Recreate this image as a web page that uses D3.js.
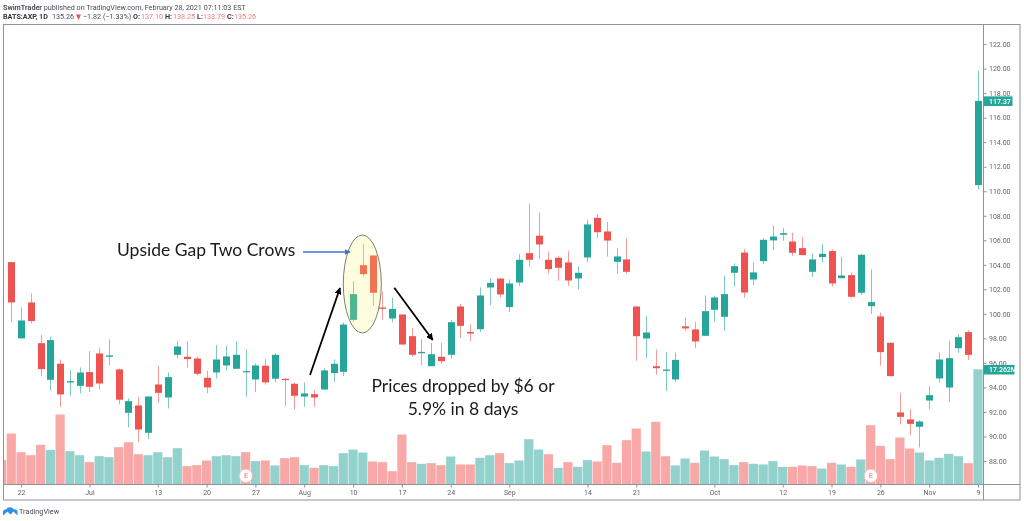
<!DOCTYPE html>
<html><head><meta charset="utf-8">
<script src="https://cdn.jsdelivr.net/npm/d3@7"></script>
<style>
html,body{margin:0;padding:0;background:#fff;overflow:hidden}
svg{display:block;filter:blur(.3px)}
</style></head><body>
<svg id="c" width="1024" height="521"></svg>
<script>
const opens=[104.22,98.0,100.93,97.61,94.62,95.93,94.40,94.13,95.25,96.77,96.50,95.47,91.93,92.53,90.30,94.24,93.18,96.66,96.50,96.36,94.79,95.22,95.79,95.52,95.28,94.65,95.77,94.71,94.70,94.30,93.26,93.45,93.83,95.17,95.27,99.51,103.97,104.76,100.52,99.62,99.95,98.18,96.79,95.73,96.50,96.66,100.60,98.53,98.75,102.15,102.88,100.55,102.56,104.95,106.37,104.41,104.57,104.19,102.89,104.60,107.83,106.72,104.24,104.44,100.60,97.99,95.73,95.35,94.65,98.98,98.73,98.21,100.33,99.76,103.35,105.0,102.80,104.30,105.99,106.45,105.90,105.36,103.43,104.63,105.12,102.91,103.16,101.72,100.63,99.79,97.64,91.96,91.39,90.79,92.93,94.73,93.99,97.20,98.51,110.5];
const highs=[104.22,100.52,101.67,98.27,98.13,96.28,95.41,95.63,96.96,97.26,97.91,95.55,93.10,93.23,93.26,95.77,95.22,97.78,97.78,96.50,95.36,97.45,97.40,97.78,97.12,95.96,96.31,96.77,94.76,94.41,94.41,93.78,95.55,96.28,99.30,102.67,105.69,104.76,101.80,101.31,99.95,98.81,97.94,97.64,97.64,99.49,100.82,99.13,102.15,102.88,102.88,102.80,104.87,109.0,108.27,105.09,104.71,105.11,103.84,107.70,108.10,107.5,105.33,106.15,100.60,99.81,97.09,96.90,96.85,99.70,99.35,101.50,101.45,103.13,104.11,105.28,104.19,106.15,107.21,107.0,106.61,106.28,104.93,105.69,105.25,104.65,103.38,104.87,103.62,100.11,97.64,93.56,92.23,91.33,94.10,96.85,97.80,98.35,98.65,119.82];
const lows=[99.30,98.0,99.22,94.92,93.73,92.42,93.32,93.51,93.62,93.83,95.82,92.61,90.73,89.56,89.78,92.75,92.29,96.36,95.63,95.0,93.51,94.73,95.36,95.52,93.24,93.64,94.24,94.41,92.50,92.20,92.42,92.42,93.83,94.46,94.92,99.35,102.97,100.66,99.49,99.30,97.50,96.50,95.82,95.73,95.90,96.36,98.02,97.77,98.53,100.71,101.34,100.14,102.26,103.84,104.46,103.29,102.69,102.29,102.0,104.19,106.2,104.68,103.29,103.29,96.17,96.39,95.05,93.70,94.46,98.62,97.20,98.21,99.35,98.62,102.21,101.31,102.34,104.06,105.20,105.96,104.73,104.79,103.02,104.19,102.21,102.91,101.31,101.53,100.0,95.76,94.92,90.98,90.11,89.10,92.23,94.38,92.83,96.82,96.22,110.17];
const closes=[100.93,99.46,99.41,95.49,97.86,93.43,94.51,95.22,94.05,94.32,96.61,93.0,92.88,90.57,93.26,93.56,94.84,97.34,96.31,95.11,94.0,96.28,96.53,96.66,95.33,95.79,94.41,96.66,94.65,93.32,93.51,93.18,95.39,95.93,99.13,101.61,103.24,101.72,100.41,100.41,97.50,96.66,96.90,96.71,96.14,99.32,99.02,98.40,101.50,102.53,101.58,102.48,104.41,104.41,105.66,103.65,103.76,102.72,103.35,107.29,106.66,105.98,104.68,103.43,98.18,98.48,95.57,95.46,96.25,98.81,97.75,100.22,101.34,101.61,103.89,101.74,103.38,106.04,106.31,106.58,104.98,104.79,104.44,104.90,102.48,103.13,101.39,104.82,100.96,96.88,94.92,91.60,91.03,91.22,93.37,96.28,96.39,98.10,96.66,117.37];

// volume in millions; the first entry is the bar cut off by the left edge
const volumes=[3.65,7.64,4.84,4.39,5.94,5.19,10.49,4.99,4.39,3.35,4.24,4.09,5.59,6.34,4.54,4.39,4.84,4.09,5.44,2.75,2.90,3.60,4.24,4.39,4.24,4.84,3.50,3.60,2.85,3.95,4.09,2.90,2.50,2.90,2.75,4.69,5.24,4.79,3.45,3.35,2.0,7.49,3.35,3.10,3.20,2.90,4.19,3.0,3.0,4.0,4.39,4.69,3.2,3.6,6.79,5.24,4.54,2.5,3.35,2.65,3.65,3.45,5.89,3.25,6.64,8.39,4.94,9.39,4.24,2.85,3.9,3.25,5.09,4.19,3.8,2.9,3.35,3.1,3.0,3.5,2.65,2.65,2.85,2.75,2.4,3.25,3.0,2.65,3.75,8.89,5.79,3.8,7.04,5.39,4.79,3.6,4.0,4.59,4.24,3.2,17.262];
const volumeSides=["d","d","d","d","d","u","d","u","u","d","u","u","d","d","d","u","u","u","u","d","d","d","u","u","u","d","u","d","u","d","d","u","d","u","u","u","u","u","d","d","d","d","d","u","d","d","u","d","d","u","u","d","u","u","u","u","d","u","d","u","u","d","d","d","d","d","u","d","d","u","u","d","u","u","u","u","d","u","u","u","u","d","d","d","u","d","u","d","u","d","d","d","d","d","u","u","u","u","u","d","u"];

const priceTicks=[88,90,92,94,96,98,100,102,104,106,108,110,112,114,116,118,120,122];
const timeTickIndex=[1,8,15,20,25,30,35,40,45,51,59,64,72,79,84,89,94,99];
const timeTickLabels=["22","Jul","13","20","27","Aug","10","17","24","Sep","14","21","Oct","12","19","26","Nov","9"];
const earningsIndex=[24,88];
const lastPrice=117.37, lastVolume=17.262;

const UP="#26a69a",DOWN="#ef5350",UPV="#93d2cc",DOWNV="#f8a9a7",UPW="#7fcabf",DOWNW="#f79a98",FRAME="#8f929c";
const UI="Roboto, sans-serif", NOTE="Lato, sans-serif";

const svg=d3.select("#c");
const x=d3.scaleLinear().domain([0,99]).range([11.3,978]);
const y=d3.scaleLinear().domain([88,122]).range([461,44.1]);
const v=d3.scaleLinear().domain([0,17.262]).range([484.5,369.3]);
const bodyW=7, volW=9.2;

const defs=svg.append("defs");
defs.append("clipPath").attr("id","plot").append("rect")
  .attr("x",3.5).attr("y",24.5).attr("width",979.8).attr("height",460);
[["ah","#000",7],["ab","#4472c4",6]].forEach(([id,col,s])=>defs.append("marker").attr("id",id).attr("viewBox","0 0 10 10").attr("refX",9).attr("refY",5)
  .attr("markerWidth",s).attr("markerHeight",s).attr("markerUnits","userSpaceOnUse").attr("orient","auto")
  .append("path").attr("d","M0,0L10,5L0,10Z").attr("fill",col));

const plot=svg.append("g").attr("clip-path","url(#plot)");
// volume
plot.append("g").selectAll("rect").data(volumes).join("rect")
  .attr("x",(d,i)=>x(i-1)-volW/2).attr("width",volW)
  .attr("y",d=>v(d)).attr("height",d=>v(0)-v(d))
  .attr("fill",(d,i)=>volumeSides[i]==="u"?UPV:DOWNV);
// candles
const idx=d3.range(opens.length);
plot.append("g").selectAll("line").data(idx).join("line")
  .attr("x1",i=>Math.round(x(i))+.5).attr("x2",i=>Math.round(x(i))+.5)
  .attr("y1",i=>y(highs[i])).attr("y2",i=>y(lows[i]))
  .attr("stroke",i=>closes[i]>=opens[i]?UPW:DOWNW).attr("stroke-width",1);
plot.append("g").selectAll("rect").data(idx).join("rect")
  .attr("x",i=>Math.round(x(i))+.5-bodyW/2).attr("width",bodyW)
  .attr("y",i=>y(Math.max(opens[i],closes[i])))
  .attr("height",i=>Math.max(1.2,Math.abs(y(opens[i])-y(closes[i]))))
  .attr("fill",i=>closes[i]>=opens[i]?UP:DOWN);
// earnings markers
const eg=plot.append("g").selectAll("g").data(earningsIndex).join("g")
  .attr("transform",i=>`translate(${x(i)+.2},475.8)`);
eg.append("circle").attr("r",6.8).attr("fill","#fff").attr("stroke","#f6b4b2").attr("stroke-width",1);
eg.append("text").text("E").attr("text-anchor","middle").attr("y",2.6).attr("font-family",UI)
  .attr("font-size",7).attr("font-weight",700).attr("fill","#f19a98");

// frame and axes
svg.append("rect").attr("x",3.5).attr("y",24.5).attr("width",1016.5).attr("height",475.5)
  .attr("fill","none").attr("stroke",FRAME).attr("stroke-width",1);

const ay=d3.axisRight(y).tickValues(priceTicks).tickFormat(d3.format(".2f")).tickSize(3).tickPadding(2.5);
const gy=svg.append("g").attr("transform","translate(983.5,0)").call(ay);
gy.select(".domain").attr("d","M0,24.5V500").attr("stroke",FRAME);
gy.selectAll(".tick line").attr("stroke",FRAME);
gy.selectAll("text").attr("font-family",UI).attr("font-size",7).attr("fill","#62656f");

const ax=d3.axisBottom(x).tickValues(timeTickIndex).tickFormat((d,i)=>timeTickLabels[i]).tickSize(3).tickPadding(3);
const gx=svg.append("g").attr("transform","translate(0,484.5)").call(ax);
gx.select(".domain").attr("d","M3.5,0H1020").attr("stroke",FRAME);
gx.selectAll(".tick line").attr("stroke",FRAME);
gx.selectAll("text").attr("font-family",UI).attr("font-size",7).attr("fill","#62656f");

// last-value tags
function tag(yc,w,label){
  svg.append("rect").attr("x",983.5).attr("y",yc-4.8).attr("width",w).attr("height",9.6).attr("fill",UP);
  svg.append("text").text(label).attr("x",989).attr("y",yc+2.6).attr("font-family",UI).attr("font-size",7)
    .attr("font-weight",500).attr("fill","#fff");
}
tag(y(lastPrice)+.3,29,lastPrice.toFixed(2));
tag(v(lastVolume)+.4,31,lastVolume.toFixed(3)+"M");

// annotations
svg.append("ellipse").attr("cx",362.3).attr("cy",284).attr("rx",19).attr("ry",49)
  .attr("fill","rgba(255,245,100,.2)").attr("stroke","#6f6f5c").attr("stroke-width",.9);
const arrow=(a,b,c,d,m,col,w)=>svg.append("line").attr("x1",a).attr("y1",b).attr("x2",c).attr("y2",d)
  .attr("stroke",col).attr("stroke-width",w).attr("marker-end",`url(#${m})`);
arrow(310,375,340,288,"ah","#000",1.8);
arrow(394.3,287.7,432.7,340,"ah","#000",1.8);
arrow(303,252,350,252,"ab","#4472c4",1.3);
svg.append("text").text("Upside Gap Two Crows").attr("x",117).attr("y",256).attr("font-family",NOTE)
  .attr("font-size",17.5).attr("fill","#1a1a1a");
svg.append("text").text("Prices dropped by $6 or").attr("x",463).attr("y",391.5).attr("text-anchor","middle")
  .attr("font-family",NOTE).attr("font-size",17.5).attr("fill","#1a1a1a");
svg.append("text").text("5.9% in 8 days").attr("x",463).attr("y",414.5).attr("text-anchor","middle")
  .attr("font-family",NOTE).attr("font-size",17.5).attr("fill","#1a1a1a");

// header
const h1=svg.append("text").attr("x",3).attr("y",10).attr("font-family",UI).attr("font-size",7.2).attr("fill","#4a4d57");
h1.append("tspan").text("SwimTrader").attr("font-weight",700);
h1.append("tspan").text(" published on TradingView.com, February 28, 2021 07:11:03 EST");
const line2=[[3,"BATS:AXP, 1D",700,"#33363f"],[52,"135.26",400,"#4a4d57"],[83,"−1.82 (−1.33%)",400,"#4a4d57"],
 [133,"O:",700,"#33363f"],[141,"137.10",400,"#f77c7a"],[165,"H:",700,"#33363f"],[173,"138.25",400,"#f77c7a"],
 [197,"L:",700,"#33363f"],[203,"133.79",400,"#f77c7a"],[227,"C:",700,"#33363f"],[234,"135.26",400,"#f77c7a"]];
svg.append("g").selectAll("text").data(line2).join("text")
  .attr("x",d=>d[0]).attr("y",19.3).text(d=>d[1]).attr("font-weight",d=>d[2]).attr("fill",d=>d[3])
  .attr("font-family",UI).attr("font-size",7.2);
svg.append("path").attr("d","M76,14.5L81,14.5L78.5,20Z").attr("fill","#ef5350");

// footer logo
svg.append("path").attr("d","M3,515.5V511.5A2.6,2.6 0 0 1 6,509.5A4.6,4.6 0 0 1 14,509.5A2.6,2.6 0 0 1 17.5,512V515.5L13.5,511.5L10.5,514.5L7.5,511.5Z").attr("fill","#2f8fe6");
svg.append("text").text("TradingView").attr("x",19).attr("y",514).attr("font-family",UI).attr("font-size",7.3).attr("fill","#4a4d57");
</script></body></html>
